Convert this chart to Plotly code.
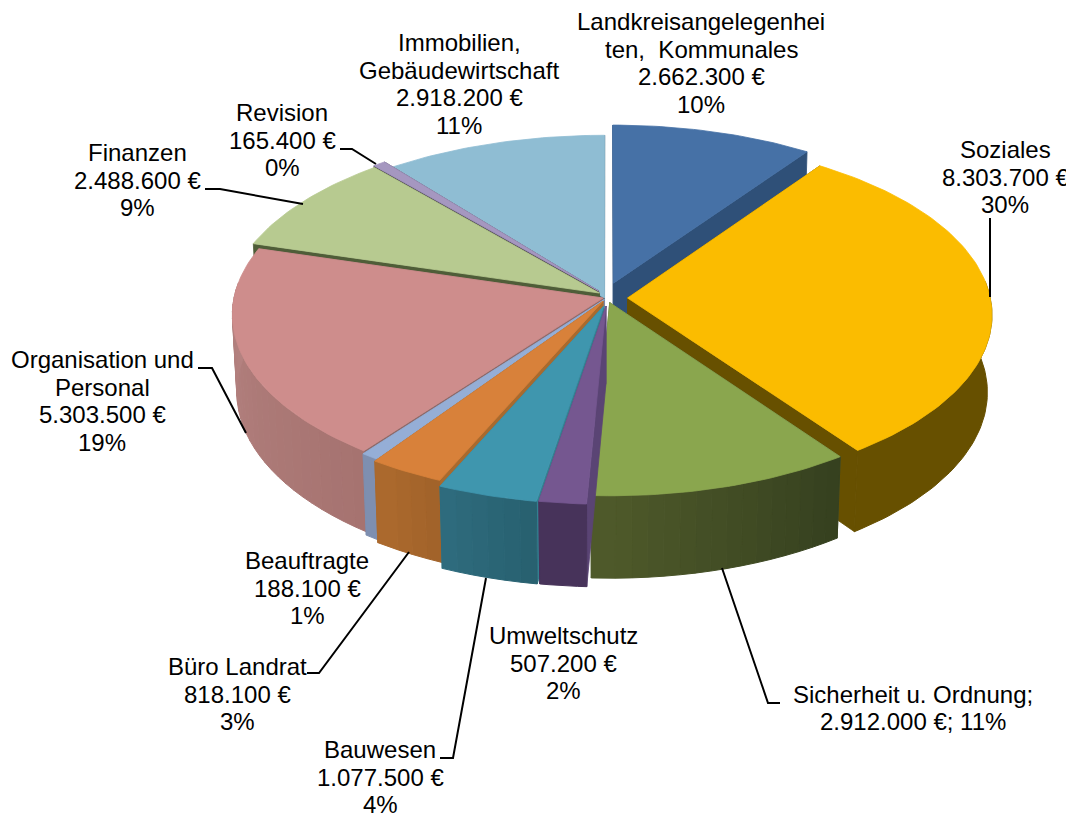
import math
import plotly.graph_objects as go

# ---- data ----
categories = [["Landkreisangelegenhei", "ten,  Kommunales"], ["Soziales"], ["Sicherheit u. Ordnung;"], ["Umweltschutz"],
              ["Bauwesen"], ["Büro Landrat"], ["Beauftragte"], ["Organisation und", "Personal"], ["Finanzen"], ["Revision"],
              ["Immobilien,", "Gebäudewirtschaft"]]
values = [2662300, 8303700, 2912000, 507200, 1077500, 818100, 188100, 5303500, 2488600, 165400, 2918200]
percent_labels = [10, 30, 11, 2, 4, 3, 1, 19, 9, 0, 11]

# ---- styling ----
top_colors = ["#4671a6", "#fbbc00", "#8aa64e", "#755790", "#3f96ae", "#d8813a", "#95aed6", "#ce8d8c", "#b7ca90", "#a597c0", "#8fbdd3"]
cut_colors = ["#2f5078", "#675000", "#4f5d38", "#5a4474", "#338090", "#a86a2e", "#7889a8", "#8f6b6b", "#4f5d38", "#4d4558", "#4f6d78"]
wall_start = ["#2f5078", "#675000", "#35401f", "#47335a", "#27606f", "#a0622a", "#7e8fb0", "#a67370", "#6d7d4f", "#6d6480", "#5f8090"]
wall_end = ["#2f5078", "#675000", "#4f5a2a", "#47335a", "#2f6c7e", "#ad6a2d", "#7e8fb0", "#b48280", "#7d8d5f", "#6d6480", "#6f90a0"]
explode = [(0.02, 0.084), (0.058, 0.0), (0.010, -0.026), (0.0, -0.045), (-0.006, -0.045), (-0.008, -0.018), (-0.004, -0.008),
           (-0.008, 0.0), (-0.018, 0.028), (-0.02, 0.04), (-0.004, 0.0)]
radius_scale = [0.985, 0.975, 0.98, 1.0, 1.0, 1.0, 1.0, 0.992, 1.0, 1.0, 1.0]
label_pos = [(701, 63), (1005, 177), (913, 708), (563, 663), (380, 777), (237, 694), (307, 588), (102, 401), (137, 180), (282, 140), (459, 84)]
leaders = [
    [(990, 218), (990, 297)],
    [(340, 149), (352, 149), (376, 164)],
    [(205, 189), (220, 189), (303, 204)],
    [(198, 368), (212, 368), (246, 433)],
    [(307, 673), (319, 673), (409, 552)],
    [(440, 758), (453, 758), (486, 578)],
    [(780, 703), (768, 703), (722, 568)],
]

CX, CY, RX, RY, PERSP, HEIGHT, SHRINK = 606.0, 298.0, 372.0, 178.0, 0.094, 78.0, 0.012
PAGE_MARGIN = 8  # the browser page's default body margin
LINE_STEP = 27.5


def project(X, Y, Z):
    w = 1 + PERSP * Y + SHRINK * Z
    return CX + RX * X / w, CY + (-RY * Y + HEIGHT * Z) / w


def mix(c1, c2, t):
    a = [int(c1[i:i + 2], 16) for i in (1, 3, 5)]
    b = [int(c2[i:i + 2], 16) for i in (1, 3, 5)]
    return "#%02x%02x%02x" % tuple(round(a[k] + (b[k] - a[k]) * t) for k in range(3))


def poly(fig, pts, color, lw=0.8):
    xs = [p[0] for p in pts] + [pts[0][0]]
    ys = [p[1] for p in pts] + [pts[0][1]]
    fig.add_trace(go.Scatter(x=xs, y=ys, mode="lines", fill="toself", fillcolor=color,
                             line=dict(color=color, width=lw), hoverinfo="skip", showlegend=False))


total = sum(values)
slices = []
acc = 0.0
for i, v in enumerate(values):
    a0 = acc / total * 2 * math.pi
    acc += v
    a1 = acc / total * 2 * math.pi
    slices.append((i, a0, a1))

order = sorted(slices, key=lambda s: -math.cos((s[1] + s[2]) / 2))

fig = go.Figure()
for i, a0, a1 in order:
    ox, oy = explode[i]
    rs = radius_scale[i]
    steps = max(3, int((a1 - a0) / 0.02))
    angles = [a0 + (a1 - a0) * k / steps for k in range(steps + 1)]
    rim = [(ox + rs * math.sin(a), oy + rs * math.cos(a)) for a in angles]
    apex = (ox, oy)
    for end in (rim[0], rim[-1]):
        poly(fig, [project(*apex, 0), project(*end, 0), project(*end, 1), project(*apex, 1)], cut_colors[i])
    # outer wall: only the part facing the viewer, in bands shaded across the wall
    front = [rim[k] for k in range(steps + 1) if math.cos(angles[k]) < 0.1]
    if len(front) >= 2:
        n = len(front) - 1
        bands = 1 if wall_start[i] == wall_end[i] else max(1, n // 2)
        for b in range(bands):
            k0 = n * b // bands
            k1 = n * (b + 1) // bands
            part = front[k0:k1 + 1]
            c = mix(wall_start[i], wall_end[i], (b + 0.5) / bands)
            poly(fig, [project(*p, 0) for p in part] + [project(*p, 1) for p in reversed(part)], c, lw=1)
    poly(fig, [project(*apex, 0)] + [project(*p, 0) for p in rim], top_colors[i])

for seg in leaders:
    fig.add_trace(go.Scatter(x=[p[0] for p in seg], y=[p[1] for p in seg], mode="lines",
                             line=dict(color="#000000", width=2), hoverinfo="skip", showlegend=False))


def euro(v):
    return f"{v:,}".replace(",", ".") + " €"


for i, name_lines in enumerate(categories):
    if name_lines[0].startswith("Sicherheit"):
        lines = name_lines + [f"{euro(values[i])}; {percent_labels[i]}%"]
    else:
        lines = name_lines + [euro(values[i]), f"{percent_labels[i]}%"]
    for k, line in enumerate(lines):
        fig.add_annotation(x=label_pos[i][0], y=label_pos[i][1] + (k - (len(lines) - 1) / 2) * LINE_STEP,
                           text=line, showarrow=False, xanchor="center", yanchor="middle",
                           font=dict(family="Liberation Sans", size=24, color="#000000"))

fig.update_layout(width=1074 - PAGE_MARGIN, height=818 - PAGE_MARGIN, margin=dict(l=0, r=0, t=0, b=0),
                  paper_bgcolor="white", plot_bgcolor="white", showlegend=False,
                  xaxis=dict(range=[PAGE_MARGIN, 1074], visible=False, fixedrange=True),
                  yaxis=dict(range=[818, PAGE_MARGIN], visible=False, fixedrange=True))
fig.write_html("out.html", config={"displayModeBar": False})
